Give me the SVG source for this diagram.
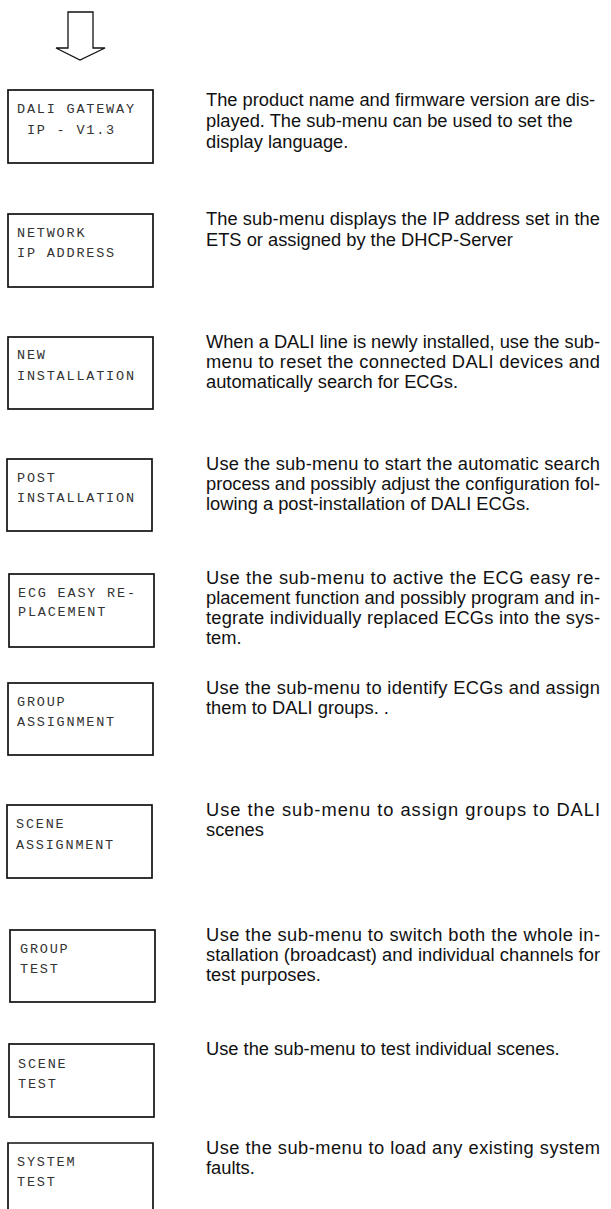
<svg xmlns="http://www.w3.org/2000/svg" width="611" height="1209" viewBox="0 0 611 1209">
<style>
.box{fill:none;stroke:#111;stroke-width:1.7}
.mono{font-family:"Liberation Mono","Courier New",monospace;font-size:13.5px;letter-spacing:1.8px;fill:#333}
.desc{font-family:"Liberation Sans",Arial,sans-serif;font-size:18.3px;fill:#111}
</style>
<rect width="611" height="1209" fill="#fff"/>
<g id="connectors">
<polygon points="68,12 93,12 93,48 105,48 80,60 56,48 68,48" fill="#fff" stroke="#111" stroke-width="1.3"/>
</g>
<g id="node1">
<rect class="box" x="8" y="90" width="145" height="73"/>
<text class="mono" x="17" y="113">DALI GATEWAY</text>
<text class="mono" x="17" y="134" xml:space="preserve"> IP - V1.3</text>
<text class="desc" x="206" y="106">The product name and firmware version are dis-</text>
<text class="desc" x="206" y="127">played. The sub-menu can be used to set the</text>
<text class="desc" x="206" y="148">display language.</text>
</g>
<g id="node2">
<rect class="box" x="8" y="214" width="145" height="73"/>
<text class="mono" x="17" y="237">NETWORK</text>
<text class="mono" x="17" y="257">IP ADDRESS</text>
<text class="desc" x="206" y="225" textLength="394" lengthAdjust="spacing">The sub-menu displays the IP address set in the</text>
<text class="desc" x="206" y="246">ETS or assigned by the DHCP-Server</text>
</g>
<g id="node3">
<rect class="box" x="8" y="337" width="145" height="72"/>
<text class="mono" x="17" y="359">NEW</text>
<text class="mono" x="17" y="380">INSTALLATION</text>
<text class="desc" x="206" y="348" textLength="394" lengthAdjust="spacing">When a DALI line is newly installed, use the sub-</text>
<text class="desc" x="206" y="368" textLength="394" lengthAdjust="spacing">menu to reset the connected DALI devices and</text>
<text class="desc" x="206" y="388">automatically search for ECGs.</text>
</g>
<g id="node4">
<rect class="box" x="7" y="459" width="145" height="72"/>
<text class="mono" x="17" y="482">POST</text>
<text class="mono" x="17" y="502">INSTALLATION</text>
<text class="desc" x="206" y="470" textLength="394" lengthAdjust="spacing">Use the sub-menu to start the automatic search</text>
<text class="desc" x="206" y="490" textLength="394" lengthAdjust="spacing">process and possibly adjust the configuration fol-</text>
<text class="desc" x="206" y="510">lowing a post-installation of DALI ECGs.</text>
</g>
<g id="node5">
<rect class="box" x="9" y="574" width="145" height="73"/>
<text class="mono" x="18" y="597">ECG EASY RE-</text>
<text class="mono" x="18" y="616">PLACEMENT</text>
<text class="desc" x="206" y="584" textLength="394" lengthAdjust="spacing">Use the sub-menu to active the ECG easy re-</text>
<text class="desc" x="206" y="604" textLength="394" lengthAdjust="spacing">placement function and possibly program and in-</text>
<text class="desc" x="206" y="624" textLength="394" lengthAdjust="spacing">tegrate individually replaced ECGs into the sys-</text>
<text class="desc" x="206" y="644">tem.</text>
</g>
<g id="node6">
<rect class="box" x="8" y="683" width="145" height="72"/>
<text class="mono" x="17" y="706">GROUP</text>
<text class="mono" x="17" y="726">ASSIGNMENT</text>
<text class="desc" x="206" y="694" textLength="394" lengthAdjust="spacing">Use the sub-menu to identify ECGs and assign</text>
<text class="desc" x="206" y="714">them to DALI groups. .</text>
</g>
<g id="node7">
<rect class="box" x="7" y="805" width="145" height="73"/>
<text class="mono" x="16" y="828">SCENE</text>
<text class="mono" x="16" y="849">ASSIGNMENT</text>
<text class="desc" x="206" y="816" textLength="394" lengthAdjust="spacing">Use the sub-menu to assign groups to DALI</text>
<text class="desc" x="206" y="836">scenes</text>
</g>
<g id="node8">
<rect class="box" x="10" y="930" width="145" height="72"/>
<text class="mono" x="20" y="953">GROUP</text>
<text class="mono" x="20" y="973">TEST</text>
<text class="desc" x="206" y="941" textLength="394" lengthAdjust="spacing">Use the sub-menu to switch both the whole in-</text>
<text class="desc" x="206" y="961" textLength="394" lengthAdjust="spacing">stallation (broadcast) and individual channels for</text>
<text class="desc" x="206" y="981">test purposes.</text>
</g>
<g id="node9">
<rect class="box" x="9" y="1044" width="145" height="73"/>
<text class="mono" x="18" y="1068">SCENE</text>
<text class="mono" x="18" y="1088">TEST</text>
<text class="desc" x="206" y="1055">Use the sub-menu to test individual scenes.</text>
</g>
<g id="node10">
<path class="box" d="M8,1209 V1143 H153 V1209"/>
<text class="mono" x="17" y="1166">SYSTEM</text>
<text class="mono" x="17" y="1186">TEST</text>
<text class="desc" x="206" y="1154" textLength="394" lengthAdjust="spacing">Use the sub-menu to load any existing system</text>
<text class="desc" x="206" y="1174">faults.</text>
</g>
</svg>
